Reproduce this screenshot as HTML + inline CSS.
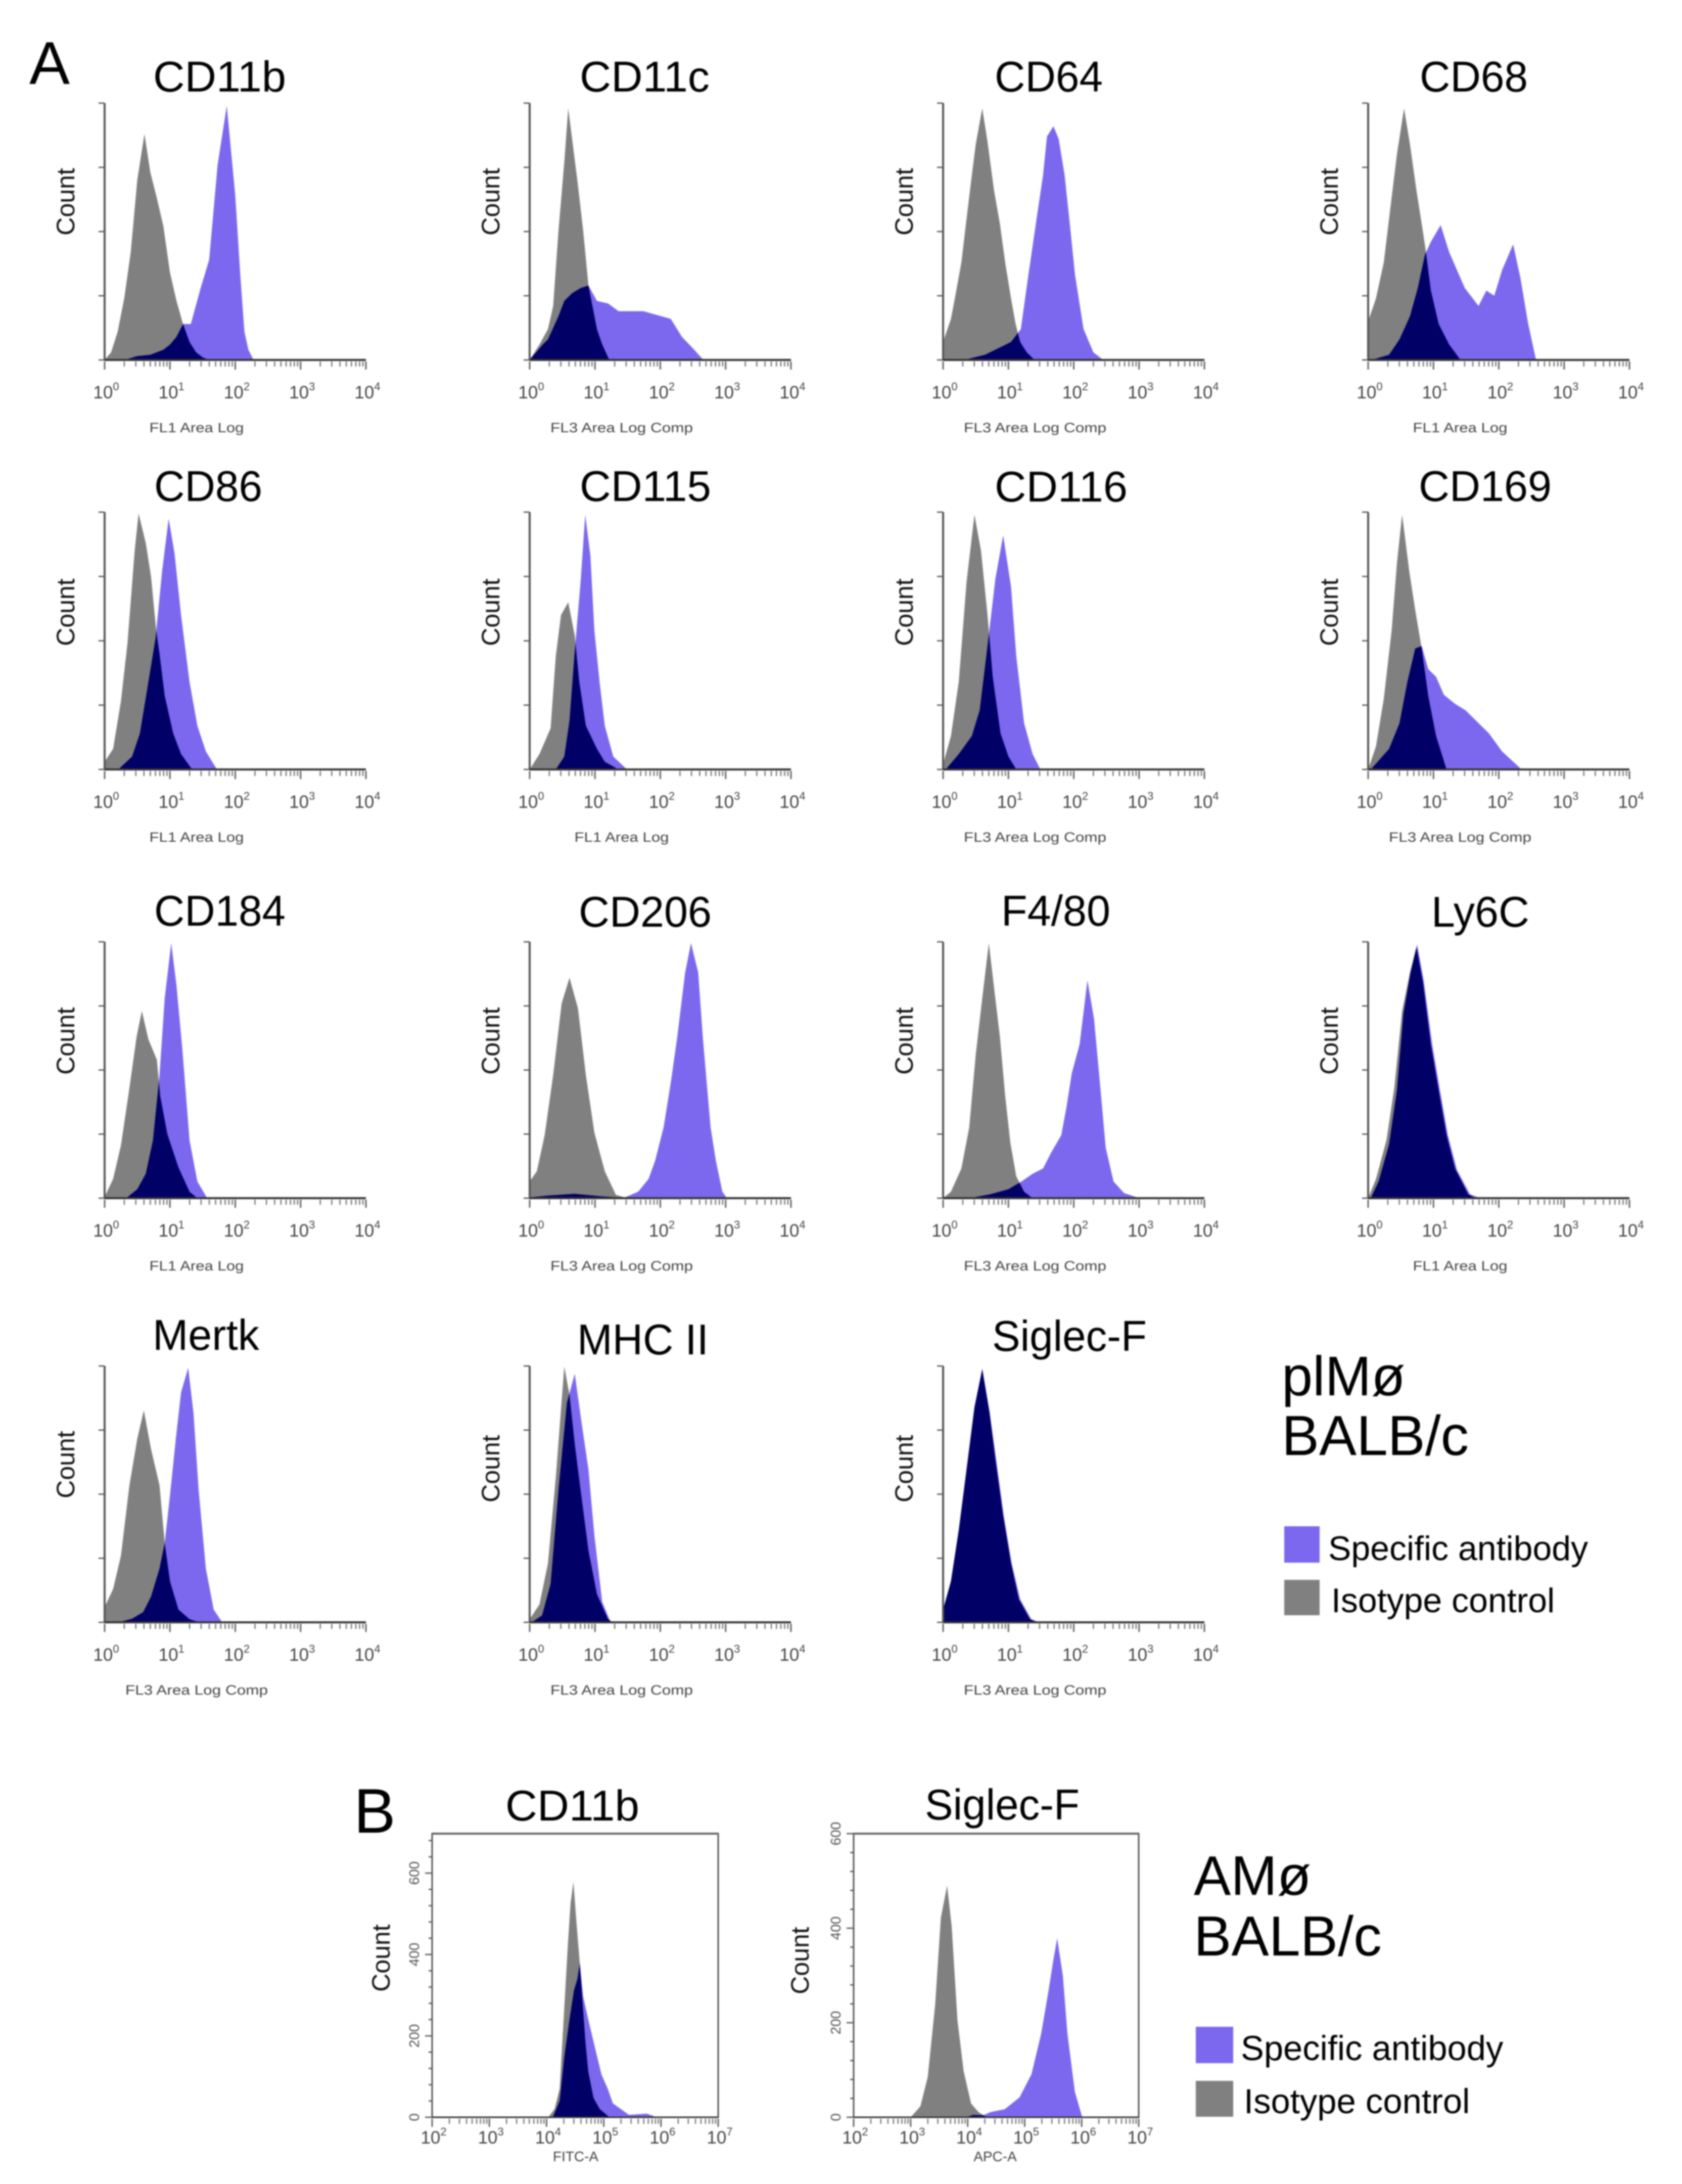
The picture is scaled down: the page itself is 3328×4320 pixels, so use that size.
<!DOCTYPE html>
<html lang="en">
<head>
<meta charset="utf-8">
<title>Flow cytometry histograms</title>
<style>
html,body{margin:0;padding:0;background:#fff;width:3328px;height:4320px;overflow:hidden}
svg{display:block;font-family:"Liberation Sans",sans-serif;filter:blur(1.2px)}
</style>
</head>
<body>
<svg id="figure" xmlns="http://www.w3.org/2000/svg" width="3328" height="4320" viewBox="0 0 3328 4320">
<rect x="0" y="0" width="3328" height="4320" fill="#fff"/>
<text x="58" y="166" font-size="120" fill="#000">A</text>
<text x="700" y="3625" font-size="124" fill="#000">B</text>
<text x="2536" y="2760" font-size="110" fill="#000">plMø</text>
<text x="2536" y="2878" font-size="111" fill="#000">BALB/c</text>
<rect x="2541" y="3019" width="70" height="72" fill="#7b68ee"/>
<text x="2628" y="3086" font-size="68" fill="#000">Specific antibody</text>
<rect x="2541" y="3125" width="70" height="70" fill="#808080"/>
<text x="2634" y="3189" font-size="68" fill="#000">Isotype control</text>
<text x="2362" y="3748" font-size="110" fill="#000">AMø</text>
<text x="2362" y="3868" font-size="111.5" fill="#000">BALB/c</text>
<rect x="2366" y="4009" width="74" height="72" fill="#7b68ee"/>
<text x="2455" y="4075" font-size="68.7" fill="#000">Specific antibody</text>
<rect x="2366" y="4116" width="74" height="71" fill="#808080"/>
<text x="2461" y="4180" font-size="68.8" fill="#000">Isotype control</text>
</svg>
<script>
// Each series is a list of [log10 fluorescence, percent of axis height] readings.
const cd11bIso=[[0,0],[0.1,3],[0.2,11],[0.3,24],[0.4,42],[0.5,70],[0.61,88],[0.7,73],[0.8,63],[0.9,52],[1,34],[1.1,23],[1.2,14],[1.3,7],[1.4,3],[1.5,1],[1.6,0]];
const cd11bSpec=[[0.3,0],[0.5,1.5],[0.7,2],[0.9,4],[1,6],[1.1,9],[1.2,14],[1.32,14],[1.47,28],[1.6,39],[1.73,76],[1.87,99],[2,64],[2.08,32],[2.14,11],[2.2,4],[2.28,0]];
const cd11cIso=[[0,0],[0.15,6],[0.28,12],[0.36,21],[0.44,50],[0.53,77],[0.59,98],[0.65,86],[0.74,68],[0.82,50],[0.9,29],[1.03,12],[1.11,6],[1.21,0.5],[1.25,0]];
const cd11cSpec=[[0,0],[0.1,3],[0.2,6],[0.28,8],[0.44,17],[0.53,23],[0.65,26],[0.78,28],[0.9,29],[1.03,23],[1.2,22],[1.36,19],[1.53,19],[1.74,19],[1.95,17.5],[2.16,16],[2.33,9],[2.5,4.5],[2.66,0]];
const cd64Iso=[[0,7],[0.12,16],[0.18,24],[0.28,38],[0.35,53],[0.44,72],[0.5,84],[0.6,98],[0.68,85],[0.78,66],[0.87,53],[0.95,38],[1.04,24],[1.11,14],[1.18,7],[1.28,3],[1.4,0]];
const cd64Spec=[[0.32,0],[0.64,2],[0.88,5],[1.04,7],[1.19,12],[1.3,32],[1.42,53],[1.53,72],[1.59,87],[1.69,91],[1.77,86],[1.86,72],[1.94,53],[2.02,33],[2.15,12],[2.3,3],[2.45,0]];
const cd68Iso=[[0,15],[0.12,24],[0.24,38],[0.34,59],[0.44,80],[0.55,98],[0.64,84],[0.74,66],[0.82,53],[0.88,43],[0.96,27],[1.08,14],[1.24,6],[1.4,0.5],[1.45,0]];
const cd68Spec=[[0.05,0],[0.32,2],[0.48,8],[0.64,17],[0.76,28],[0.87,41],[0.96,46],[1.11,52.5],[1.24,42],[1.36,35],[1.48,28],[1.69,21],[1.81,27],[1.93,25],[2.05,35],[2.22,45],[2.33,32],[2.45,14],[2.57,0]];
const cd86Iso=[[0,3],[0.13,8],[0.25,26.5],[0.35,49],[0.46,85],[0.52,99.5],[0.63,88],[0.71,75],[0.79,54],[0.84,45],[0.92,28.6],[1.05,14],[1.17,6],[1.34,0]];
const cd86Spec=[[0.21,0],[0.42,5],[0.54,14],[0.67,34],[0.78,51],[0.88,77],[0.98,97.5],[1.07,84],[1.17,60],[1.3,34],[1.42,17],[1.55,7],[1.72,0]];
const cd115Iso=[[0,0],[0.15,6],[0.32,16],[0.4,44],[0.48,60],[0.59,65],[0.69,52],[0.76,34],[0.86,17],[1.03,8],[1.15,3],[1.36,0]];
const cd115Spec=[[0.4,0],[0.53,5],[0.61,19],[0.69,46],[0.78,73],[0.85,99],[0.93,83],[0.99,54],[1.07,34],[1.15,17],[1.28,5],[1.49,0]];
const cd116Iso=[[0,2],[0.12,13],[0.24,34],[0.36,73],[0.48,99],[0.58,85],[0.68,60],[0.76,36],[0.88,14],[1,5],[1.12,0]];
const cd116Spec=[[0.04,0],[0.24,6],[0.44,13],[0.56,23],[0.68,48],[0.8,74],[0.92,91],[1.04,71],[1.12,44],[1.24,18],[1.37,6],[1.49,0]];
const cd169Iso=[[0,0],[0.12,9],[0.24,27.5],[0.36,54],[0.44,80],[0.52,99],[0.63,77],[0.72,62],[0.82,47],[0.92,28.6],[1.04,13],[1.2,0]];
const cd169Spec=[[0.04,0],[0.32,8],[0.48,18],[0.6,34],[0.72,47],[0.82,48],[0.92,39],[1.04,36],[1.16,29],[1.33,25.5],[1.49,23],[1.65,19],[1.85,14],[2.05,7],[2.35,0]];
const cd184Iso=[[0,0.5],[0.13,7.5],[0.25,20.6],[0.38,43],[0.49,63],[0.57,73],[0.67,62],[0.8,54],[0.85,40],[0.96,25],[1.13,12],[1.3,2.5],[1.42,0]];
const cd184Spec=[[0.33,0],[0.5,3.5],[0.63,9.5],[0.74,22.6],[0.84,48],[0.92,78],[1.02,99.5],[1.1,83],[1.19,58],[1.3,22.6],[1.42,6.5],[1.57,0]];
const cd206Iso=[[0,6.5],[0.11,10.5],[0.23,24.6],[0.36,48],[0.49,76],[0.61,86],[0.74,74],[0.86,48],[0.99,25.6],[1.15,10.5],[1.32,1.3],[1.45,0.3],[1.5,0]];
const cd206Spec=[[0,0.3],[0.28,1],[0.69,1.7],[1.11,0.7],[1.45,0.2],[1.66,2.5],[1.82,7.5],[1.92,14.6],[2.05,27.6],[2.16,45],[2.26,63],[2.38,88],[2.47,99.5],[2.58,88],[2.65,63],[2.71,45],[2.77,27.6],[2.85,14.6],[2.95,2.5],[3.02,0]];
const f480Iso=[[0,0],[0.12,2.5],[0.28,11.6],[0.4,27.6],[0.5,56],[0.6,78],[0.7,99.5],[0.79,80],[0.87,63],[0.95,40],[1.03,21.6],[1.12,8.5],[1.24,2.5],[1.37,0]];
const f480Spec=[[0.4,0],[0.72,1.5],[1,3.5],[1.2,6.5],[1.37,9.5],[1.53,11.6],[1.65,17.6],[1.81,24.6],[1.89,35.7],[1.97,48.7],[2.09,60],[2.21,85],[2.31,70],[2.39,48],[2.49,19.6],[2.61,6.5],[2.77,2],[2.97,0.3],[3.05,0]];
const ly6cIso=[[0,0],[0.12,7.5],[0.28,22.6],[0.4,43],[0.52,73],[0.64,88],[0.74,98],[0.84,84],[0.96,60],[1.08,42],[1.2,24.6],[1.33,11.6],[1.53,1.5],[1.65,0]];
const ly6cSpec=[[0.04,0],[0.16,6.5],[0.32,21],[0.44,42],[0.54,72],[0.65,88],[0.75,99],[0.85,85],[0.98,60],[1.1,42],[1.22,24.6],[1.36,11],[1.56,1.5],[1.72,0]];
const mertkIso=[[0,6],[0.13,13],[0.25,26],[0.38,53.5],[0.5,71.6],[0.6,82.7],[0.71,67.6],[0.84,53.5],[0.92,31],[1,16],[1.13,5],[1.3,1.2],[1.46,0]];
const mertkSpec=[[0.21,0],[0.42,1.4],[0.59,4],[0.71,10],[0.84,21],[0.92,31],[1,49.5],[1.09,71.6],[1.17,89.7],[1.28,99.3],[1.36,81.7],[1.44,51.5],[1.55,21],[1.67,5],[1.8,0]];
const mhc2Iso=[[0,1.2],[0.15,7],[0.28,23],[0.4,56.5],[0.53,99.8],[0.61,88.7],[0.69,69.6],[0.78,51.5],[0.9,28],[1.03,11],[1.2,1.2],[1.28,0]];
const mhc2Spec=[[0.03,0],[0.19,2.7],[0.32,15],[0.44,51.5],[0.57,85.7],[0.69,97],[0.79,78.7],[0.9,59.6],[0.99,34],[1.11,8],[1.24,0]];
const siglecIso=[[0,5],[0.12,16],[0.24,36],[0.36,59.6],[0.48,83.7],[0.6,98.8],[0.71,81.7],[0.8,63.6],[0.92,41.4],[1.04,23],[1.16,9],[1.33,1.2],[1.45,0]];
const siglecSpec=[[0,5],[0.12,16],[0.24,36],[0.36,60],[0.48,84],[0.6,99],[0.71,82.5],[0.81,64],[0.93,41.4],[1.05,23],[1.18,9],[1.35,1.2],[1.47,0]];
// Panel B readings are [log10 fluorescence, event count].
const amCd11bIso=[[4.03,0],[4.14,20],[4.23,70],[4.31,269],[4.37,418],[4.42,525],[4.47,579],[4.52,483],[4.58,380],[4.68,184],[4.73,112],[4.82,48],[4.93,20],[5.1,0]];
const amCd11bSpec=[[4.11,0],[4.23,41],[4.31,148],[4.4,240],[4.48,312],[4.54,340],[4.58,379],[4.64,297],[4.73,240],[4.85,169],[4.96,105],[5.07,70],[5.16,34],[5.3,20],[5.44,6],[5.75,9],[5.89,2],[6,0]];
const amSiglecIso=[[3,0],[3.17,23],[3.3,85],[3.43,238],[3.53,422],[3.64,490],[3.72,404],[3.82,207],[3.93,97],[4.06,29],[4.19,11],[4.31,2],[4.36,0]];
const amSiglecSpec=[[3.97,0],[4.1,5],[4.27,4],[4.4,11],[4.65,17],[4.91,42],[5.12,91],[5.29,177],[5.42,269],[5.5,330],[5.57,379],[5.67,299],[5.75,177],[5.88,54],[6.01,0]];

const categories=['CD11b','CD11c','CD64','CD68','CD86','CD115','CD116','CD169','CD184','CD206','F4/80','Ly6C','Mertk','MHC II','Siglec-F'];
const xAxisTitles=['FL1 Area Log','FL3 Area Log Comp','FL3 Area Log Comp','FL1 Area Log','FL1 Area Log','FL1 Area Log','FL3 Area Log Comp','FL3 Area Log Comp','FL1 Area Log','FL3 Area Log Comp','FL3 Area Log Comp','FL1 Area Log','FL3 Area Log Comp','FL3 Area Log Comp','FL3 Area Log Comp'];
const isotypeSeries=[cd11bIso,cd11cIso,cd64Iso,cd68Iso,cd86Iso,cd115Iso,cd116Iso,cd169Iso,cd184Iso,cd206Iso,f480Iso,ly6cIso,mertkIso,mhc2Iso,siglecIso];
const specificSeries=[cd11bSpec,cd11cSpec,cd64Spec,cd68Spec,cd86Spec,cd115Spec,cd116Spec,cd169Spec,cd184Spec,cd206Spec,f480Spec,ly6cSpec,mertkSpec,mhc2Spec,siglecSpec];
const decadeTicksA=[0,1,2,3,4];
const decadeTicksB=[2,3,4,5,6,7];
const percentTicks=[0,25,50,75,100];
const countLabels=[0,200,400,600];
const countMinorStep=40;

const NS='http://www.w3.org/2000/svg';
const root=document.getElementById('figure');
function mk(parent,tag,attrs){
  const e=document.createElementNS(NS,tag);
  for(const k in attrs){e.setAttribute(k,attrs[k]);}
  parent.appendChild(e);
  return e;
}
function slug(s){return s.toLowerCase().replace(/[^a-z0-9]+/g,'-');}
function areaPoints(series,x,y){
  const pts=series.map(function(p){return x(p[0]).toFixed(1)+','+y(p[1]).toFixed(1);});
  const first=series[0][0],last=series[series.length-1][0];
  return x(first).toFixed(1)+','+y(0).toFixed(1)+' '+pts.join(' ')+' '+x(last).toFixed(1)+','+y(0).toFixed(1);
}
function drawPanel(c,index){
  const id=slug(c.name)+'-'+c.group;
  const x=function(v){return c.left+(v-c.xMin)/(c.xMax-c.xMin)*(c.right-c.left);};
  const y=function(v){return c.base-v/c.yMax*(c.base-c.top);};
  const g=mk(root,'g',{});
  
  

  const title=mk(g,'text',{x:c.titleX,y:c.titleY,'font-size':85,fill:'#000',textLength:c.titleWidth,lengthAdjust:'spacingAndGlyphs'});
  title.textContent=c.name;
  
  

  const count=mk(g,'text',{x:0,y:0,'font-size':50,fill:'#111','text-anchor':'middle',transform:'translate('+c.countX+','+c.countY+') rotate(-90)'});
  count.textContent='Count';
  
  

  const clip=mk(g,'clipPath',{id:'overlap-'+index});
  mk(clip,'polygon',{points:areaPoints(c.iso,x,y)});

  const iso=mk(g,'polygon',{points:areaPoints(c.iso,x,y),fill:'#808080'});
  
  
  const spec=mk(g,'polygon',{points:areaPoints(c.spec,x,y),fill:'#7b68ee'});
  
  
  const overlap=mk(g,'polygon',{points:areaPoints(c.spec,x,y),fill:'#000066','clip-path':'url(#overlap-'+index+')'});
  
  

  const axes=mk(g,'g',{stroke:'#555',fill:'none'});
  
  
  if(c.boxed){
    mk(axes,'rect',{x:c.left,y:c.top,width:c.right-c.left,height:c.base-c.top,'stroke-width':3});
    mk(axes,'line',{x1:c.left,x2:c.right,y1:c.top,y2:c.top,'stroke-width':4,stroke:'#666'});
    for(let v=0;v<=c.yMax;v+=countMinorStep){
      mk(axes,'line',{x1:c.left-(v%200===0?14:7),x2:c.left,y1:y(v),y2:y(v),'stroke-width':2.5});
    }
    countLabels.forEach(function(v){
      const t=mk(g,'text',{x:0,y:0,'font-size':28,fill:'#555','text-anchor':'middle',transform:'translate('+(c.left-26)+','+y(v)+') rotate(-90)'});
      t.textContent=String(v);
      
      
    });
  }else{
    mk(axes,'line',{x1:c.left,x2:c.left,y1:c.top,y2:c.base,'stroke-width':4});
    percentTicks.forEach(function(v){
      mk(axes,'line',{x1:c.left-12,x2:c.left,y1:y(v),y2:y(v),'stroke-width':2.5});
    });
  }
  mk(axes,'line',{x1:c.left,x2:c.right,y1:c.base,y2:c.base,'stroke-width':c.boxed?3:4,stroke:'#333'});
  c.ticks.forEach(function(d,i){
    mk(axes,'line',{x1:x(d),x2:x(d),y1:c.base+3,y2:c.base+19,'stroke-width':3,stroke:'#666'});
    if(i<c.ticks.length-1){
      for(let k=2;k<10;k++){
        const m=x(d+Math.log10(k));
        mk(axes,'line',{x1:m,x2:m,y1:c.base+3,y2:c.base+13,'stroke-width':2.5,stroke:'#777'});
      }
    }
    const t=mk(g,'text',{x:x(d)+3,y:c.base+c.tickDrop,'font-size':35,fill:'#444','text-anchor':'middle'});
    t.textContent='10';
    const s=mk(t,'tspan',{dy:-16,'font-size':22});
    s.textContent=String(d);
    
    
  });

  const xt=mk(g,'text',{x:c.xTitleX,y:c.xTitleY,'font-size':c.boxed?28:27,fill:'#444','text-anchor':'middle'});
  xt.textContent=c.xTitle;
  if(!c.boxed){
    xt.setAttribute('textLength',c.xTitle.length>12?282:187);
    xt.setAttribute('lengthAdjust','spacingAndGlyphs');
  }
  
  
}

// Layout of the 4-column grid in panel A.
const colLeft=[207,1048,1866,2707];
const colWidth=517;
const rowTop=[204,1013,1863,2702];
const rowBase=[712,1522,2370,3209];
const titleLeft=[303,1147,1968,2809,305,1147,1968,2807,305,1145,1981,2832,302,1142,1963];
const titleBase=[181,181,181,181,991,991,992,991,1831,1833,1831,1833,2670,2679,2672];
const titleWidth=[263,257,214,214,214,260,263,263,260,263,216,194,211,260,306];
const countMid=[399,399,399,399,1211,1211,1211,1211,2059,2059,2059,2059,2897,2905,2905,2905];

categories.forEach(function(name,i){
  const col=i%4,row=Math.floor(i/4);
  drawPanel({
    group:'a',name:name,xTitle:xAxisTitles[i],iso:isotypeSeries[i],spec:specificSeries[i],
    left:colLeft[col],right:colLeft[col]+colWidth,top:rowTop[row],base:rowBase[row],
    xMin:0,xMax:4,yMax:100,ticks:decadeTicksA,tickDrop:76,boxed:false,
    titleX:titleLeft[i],titleY:titleBase[i],titleWidth:titleWidth[i],countX:colLeft[col]-60,countY:countMid[i],
    xTitleX:colLeft[col]+182,xTitleY:rowBase[row]+143
  },i);
});
drawPanel({
  group:'b',name:'CD11b',xTitle:'FITC-A',iso:amCd11bIso,spec:amCd11bSpec,
  left:855,right:1421,top:3627,base:4188,xMin:2,xMax:7,yMax:697,ticks:decadeTicksB,tickDrop:52,boxed:true,
  titleX:1000,titleY:3601,titleWidth:265,countX:771,countY:3873,xTitleX:1139,xTitleY:4275
},15);
drawPanel({
  group:'b',name:'Siglec-F',xTitle:'APC-A',iso:amSiglecIso,spec:amSiglecSpec,
  left:1689,right:2253,top:3627,base:4188,xMin:2,xMax:7,yMax:600,ticks:decadeTicksB,tickDrop:52,boxed:true,
  titleX:1830,titleY:3599,titleWidth:306,countX:1600,countY:3878,xTitleX:1969,xTitleY:4275
},16);
</script>
</body>
</html>
